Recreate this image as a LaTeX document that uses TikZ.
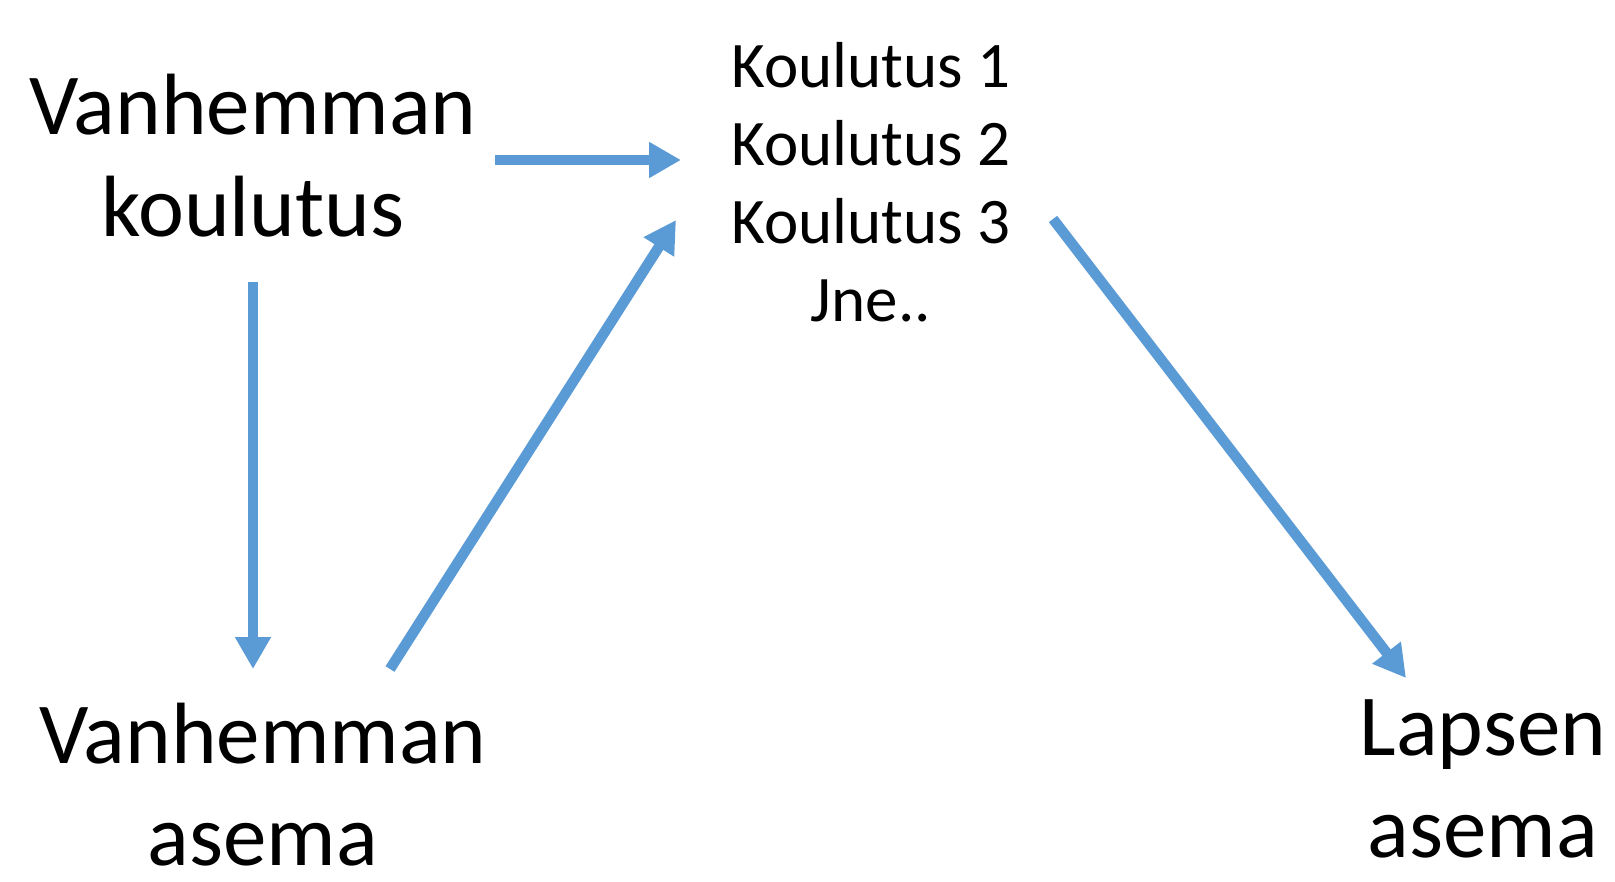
\documentclass[tikz,border=0pt]{standalone}
\usepackage{fontspec}
\setmainfont{Carlito}
\usetikzlibrary{arrows.meta}
\definecolor{arrowblue}{HTML}{5B9BD5}
\tikzset{
  bigtext/.style={inner sep=0pt, align=center, font=\fontsize{87}{102}\selectfont},
  listtext/.style={inner sep=0pt, align=center, font=\fontsize{65}{78}\selectfont},
  conn/.style={draw=arrowblue, line width=10.5pt, -{Triangle[width=34pt,length=32pt]}}
}
\begin{document}
\begin{tikzpicture}[x=1pt,y=-1pt]
\useasboundingbox (0,0) rectangle (1615,882);
\node[bigtext] (vk) at (253,156) {Vanhemman\\koulutus};
\node[listtext] (ko) at (871,182) {Koulutus 1\\Koulutus 2\\Koulutus 3\\Jne..};
\node[bigtext] (va) at (263,785) {Vanhemman\\asema};
\node[bigtext] (la) at (1483,779) {Lapsen\\asema};
\coordinate (a1s) at (495,160);
\coordinate (a1e) at (681,160);
\coordinate (a2s) at (253,282);
\coordinate (a2e) at (253,669);
\coordinate (a3s) at (390,669);
\coordinate (a3e) at (676,220);
\coordinate (a4s) at (1053,219);
\coordinate (a4e) at (1406,678);
\draw[conn] (a1s) -- (a1e);
\draw[conn] (a2s) -- (a2e);
\draw[conn] (a3s) -- (a3e);
\draw[conn] (a4s) -- (a4e);
\end{tikzpicture}
\end{document}
